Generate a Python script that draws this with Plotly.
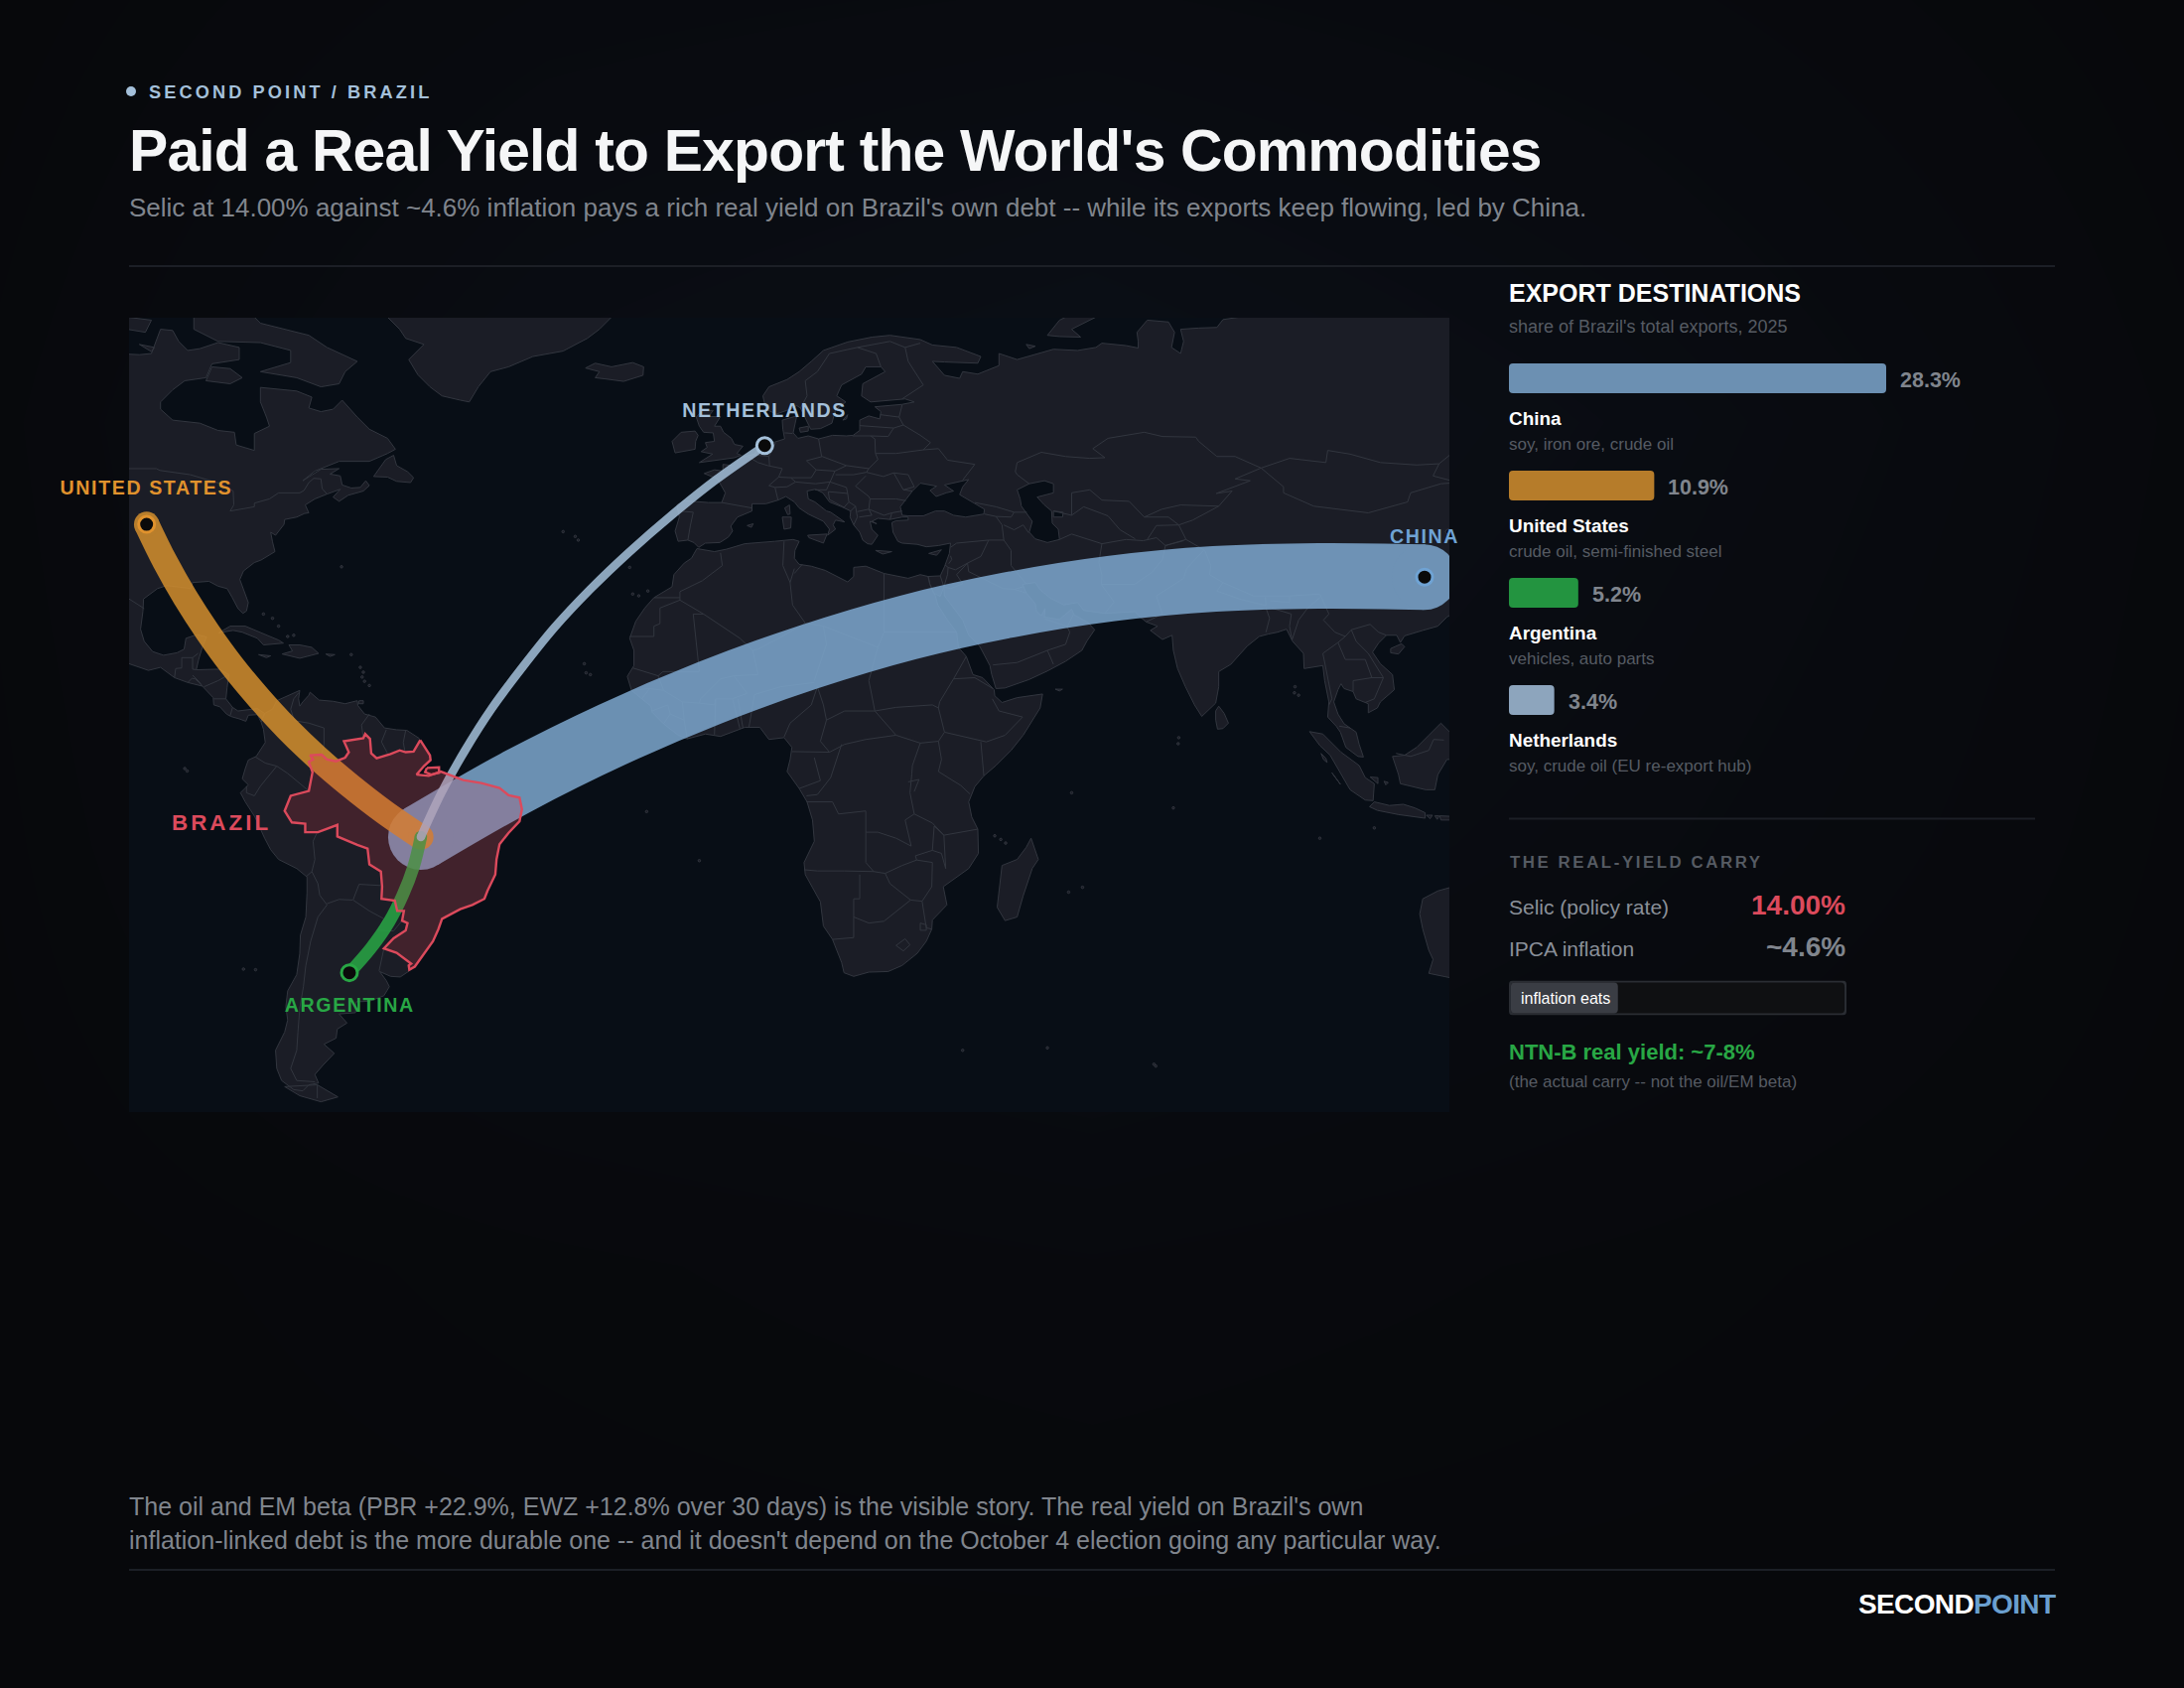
import json

import plotly.graph_objects as go

W, H = 2200, 1700
FONT = 'Liberation Sans'

# ---- export data
EXPORT_NAMES   = ['China', 'United States', 'Argentina', 'Netherlands']
EXPORT_SHARES  = [28.3, 10.9, 5.2, 3.4]
EXPORT_DETAILS = ['soy, iron ore, crude oil', 'crude oil, semi-finished steel', 'vehicles, auto parts', 'soy, crude oil (EU re-export hub)']
EXPORT_COLORS  = ['#7da7ce', '#d48f2e', '#28a745', '#a4c0da']
LABEL_COLORS   = ['#6fa3d4', '#e0922d', '#28a745', '#a4c0da']
BAR_COLORS     = ['#6c90b2', '#b67c2a', '#239440', '#8da5bd']

SELIC = 14.0
IPCA  = 4.6

# ---- flows, lon/lat
ORIGIN      = (-51.5, -11.8)
ARC_CHINA   = [ORIGIN, (-35.8, -2.8), (-19.9, 5.1), (-3.8, 12.0), (12.5, 17.9), (29.0, 22.8), (45.6, 26.5), (62.5, 29.2), (79.6, 30.8), (96.8, 31.3), (114.3, 31.1)]
ARC_US      = [ORIGIN, (-57.5, -7.7), (-63.2, -3.3), (-68.6, 1.3), (-73.6, 6.1), (-78.3, 11.2), (-82.7, 16.5), (-86.7, 22.0), (-90.4, 27.7), (-93.8, 33.7), (-96.8, 39.8)]
ARC_ARG     = [ORIGIN, (-52.7, -16.7), (-54.5, -21.4), (-56.8, -25.9), (-59.8, -30.2), (-63.3, -34.2)]
ARC_NL      = [ORIGIN, (-48.1, -4.5), (-44.2, 2.5), (-39.8, 9.4), (-34.8, 16.1), (-29.4, 22.8), (-23.5, 29.1), (-17.0, 35.3), (-10.1, 41.3), (-2.7, 47.2), (5.3, 52.8)]

# ---- page background, levels read by eye on a coarse grid
BG_X = [0, 550, 1100, 1650, 2200]
BG_Y = [0, 425, 850, 1275, 1700]
BG_LEVELS = [[0.0, 0.3, 0.4, 0.25, 0.0],
             [0.1, 0.7, 1.0, 0.6, 0.1],
             [0.05, 0.5, 0.7, 0.4, 0.05],
             [0.0, 0.1, 0.2, 0.1, 0.0],
             [0.0, 0.0, 0.0, 0.0, 0.0]]

# ---- map outlines (hand traced, lon/lat)
NORTH_AMERICA = [(-106,23),(-105.5,20),(-103,18.2),(-100,16.9),(-96.5,15.7),(-94.5,16.2),(-92.2,14.5),(-90,13.7),(-87.6,13.1),(-85.8,11.2),
    (-85.7,10),(-84.7,9.7),(-83.6,8.5),(-82.9,8.1),(-81.5,7.7),(-80.4,7.3),(-80,8.3),(-78.5,8.4),(-77.9,7.2),(-77.3,8.6),(-78.5,9.4),(-80,9.2),
    (-81.7,9),(-82.6,9.6),(-83.7,11),(-83.5,12.9),(-83.2,15),(-84.8,15.9),(-87.5,15.9),(-88.6,15.8),(-88.2,17.5),(-87.6,19.5),(-86.9,21.2),
    (-88.5,21.6),(-90.3,21),(-90.6,19.2),(-91.8,18.6),(-94,18.2),(-95.8,18.8),(-97.2,20.5),(-97.8,22.5),(-97.4,25.5),(-97.3,27.5),(-95,29.2),
    (-93.5,29.7),(-91.5,29.4),(-89.5,29.2),(-89.2,30.2),(-86.5,30.4),(-85,29.6),(-83.5,29.2),(-82.7,27.8),(-81.7,25.9),(-80.9,25.1),(-80.3,25.5),
    (-80,26.9),(-81,29.5),(-81.4,30.7),(-80.8,32.1),(-79,33.5),(-77.9,33.9),(-76.5,34.7),(-75.6,35.3),(-76,36.9),(-76.3,38.5),(-75.5,38),(-75,38.6),
    (-74.1,39.8),(-74,40.6),(-72,41),(-70.7,41.6),(-70,41.7),(-70.6,43),(-69,44),(-67,44.8),(-66,45.2),(-64.8,45.6),(-66,44.3),(-65,43.6),(-63.5,44.6),
    (-61,45.3),(-60,46.2),(-60.6,47),(-61.5,45.9),(-63,45.8),(-64.5,46.3),(-64.8,47.8),(-66.5,48.1),(-65,49),(-68,48.9),(-70,47.6),(-71,47),(-69,48.6),
    (-67,49.4),(-65,50.2),(-60,50.2),(-57,51.5),(-55.7,52.2),(-57,54),(-60,55.5),(-62,57.5),(-64.5,60.3),(-66,58.8),(-68,58.4),(-70,59),(-69.5,60.8),
    (-72,61.8),(-78,62.4),(-78,60),(-77,57.5),(-76.5,56),(-79,54.8),(-79,52),(-82,52.9),(-82.3,55),(-85,55.3),(-88,56.5),(-92.5,57),(-94.5,58.8),
    (-94.5,60),(-92.5,62),(-90.5,63.5),(-87,64),(-86,66.3),(-81.5,67),(-81.5,69),(-85,69.8),(-88,68.8),(-90,68.5),(-91.5,70),(-92.5,71.8),(-94.5,72),
    (-95.5,69.5),(-96,68),(-98,67.8),(-102,68),(-110,68),(-110,20)]
GREENLAND = [(-22,76),(-20,74),(-22,72),(-24,70.5),(-28,68.4),(-33,67.5),(-37,65.8),(-40,65),(-42,62.5),(-43.5,60),(-45,60.3),(-48,61),(-50,62.5),
    (-52,64.5),(-53.5,67),(-51,69.5),(-54,70.5),(-55,72),(-57,74),(-58,76)]
SOUTH_AMERICA = [(-77.3,8.6),(-76,9.3),(-75.3,10.7),(-74.2,11.2),(-72.8,11.9),(-71.5,12.4),(-71.7,11),(-71.5,9.8),(-71,10.5),(-70,11.6),(-69.8,12.1),(-68.3,10.8),
    (-66,10.6),(-64,10.2),(-62,10.7),(-61.9,9.9),(-60.8,8.5),(-59,8),(-57.5,6.2),(-55.5,5.9),(-53.8,5.8),(-51.8,4.5),(-50,1.7),(-49.9,0.9),(-51,-0.1),(-52.2,-1.5),
    (-50.2,-1.7),(-48.2,-1),(-44.5,-2.4),(-41.5,-2.9),(-38.5,-3.7),(-37,-4.9),(-35.2,-5.3),(-34.8,-7.2),(-35.2,-9.2),(-37,-11.1),(-38.5,-13),(-39,-15.5),(-39.2,-18),
    (-40.5,-20.7),(-41,-22),(-43,-23),(-45,-23.7),(-48,-25.3),(-48.6,-27),(-49.5,-29),(-51,-31),(-52.5,-33.2),(-53.4,-33.9),(-54.9,-34.9),(-56.5,-34.8),(-58.3,-34),
    (-57.2,-35.5),(-56.7,-36.5),(-57.6,-38),(-60,-38.9),(-62.2,-39),(-62.3,-40.8),(-65,-41),(-63.7,-42.5),(-65.3,-43.5),(-65.5,-45),(-67.5,-46),(-65.8,-47.5),(-67.7,-49.5),
    (-69,-51),(-68.4,-52.4),(-70,-52.7),(-71,-53.7),(-72.5,-53.5),(-74.5,-52),(-75.3,-50),(-75.5,-47),(-74,-44),(-73.5,-42),(-73.8,-39.8),(-73.5,-37.2),(-72,-34.5),
    (-71.5,-31),(-71.4,-28),(-70.5,-25),(-70.3,-21),(-70.3,-18.4),(-72,-17),(-75,-15.5),(-76.3,-13.9),(-77.3,-12),(-78.9,-8.5),(-80.5,-6),(-81.3,-4.5),(-80,-3.2),(-81,-2.2),
    (-80.5,-0.5),(-80,0.9),(-78.7,1.5),(-77.2,3.8),(-77.5,6),(-77.9,7.2)]
AFRICA = [(-5.9,35.8),(-3,35.3),(-1,35.7),(2,36.6),(7,37),(10,37.3),(11,37),(10.3,35.5),(10.2,34.2),(11,33.2),(13,32.9),(15.3,32.2),(19,30.3),(20,31.2),(20,32.7),(22,32.9),
    (25,31.7),(29,30.9),(31,31.5),(32.3,31.2),(32.6,29.9),(33.5,28),(33.9,26.5),(35.5,24),(37,22),(37.3,19.5),(38.6,18),(39.7,15),(41.3,14.5),(43.2,12.5),(43.3,11.5),(44.5,10.4),
    (47,11.2),(51.2,11.8),(50.8,9.5),(48,5),(46,2.5),(43.5,0),(41.5,-1.7),(40,-3.5),(39,-6),(39.5,-8.5),(40.5,-10.5),(40.6,-14.5),(39,-17),(36.5,-18.8),(34.8,-20),(35.4,-23),
    (33,-25.5),(32.9,-27),(32,-29),(30.5,-31),(28,-33),(25.7,-34),(22.5,-34.1),(20,-34.8),(18.4,-34.2),(18,-32.5),(16.5,-28.7),(15,-26.5),(14.5,-22.5),(12,-18),(11.8,-16),
    (13.5,-12.5),(13.2,-9),(12.3,-6),(11,-3.8),(9,-1),(9.5,1),(9.8,3),(8.5,4.6),(6,4.3),(4.5,6.3),(2,6.3),(-2,4.8),(-4.5,5.2),(-7.5,4.4),(-9,5),(-11.4,6.9),(-13.3,8.8),(-13.5,9.8),
    (-15,11),(-16.7,12.4),(-17.4,14.7),(-16.3,16.5),(-16.3,19),(-17,21),(-16,23.8),(-14.5,26),(-13,27.7),(-10,29.5),(-9.7,31.5),(-8,33.4),(-6.8,34.2)]
EURASIA = [(-5.6,36),(-6.4,36.8),(-7.4,37.2),(-9,37),(-9.5,38.7),(-8.8,41),(-9.2,43),(-8,43.7),(-4,43.4),(-1.8,43.4),(-1.2,45),(-2.5,47.3),(-4.7,48.2),(-3,48.8),(-1.6,48.6),(-1.6,49.7),
    (0,49.5),(1.6,50.9),(3.6,51.4),(4.7,53),(7,53.4),(8.6,53.9),(8.3,55.5),(8.2,57),(10.6,57.7),(10.3,56),(10,54.9),(10.8,54),(12.5,54.4),(14.2,53.9),(16.5,54.5),(18.8,54.4),(19.9,54.5),
    (21,55.3),(21,57),(22.5,57.7),(24.3,57.2),(24.5,58.4),(23.5,59.2),(28,59.6),(30,60),(28.5,60.5),(25,60.2),(22.8,60),(21.3,61),(21.5,63),(25.2,65),(24.5,65.8),(22,65.8),(21.3,64.6),
    (18,62.8),(17.2,61),(18.7,60),(17,58.7),(16.4,56.5),(14.5,55.6),(12.9,55.5),(12,57.5),(11.2,59),(10.6,59.4),(9.5,58.8),(7.2,58),(5.5,58.8),(5,61),(6,62.5),(9,63.7),(11,65),(13,66.7),
    (15,68.5),(19,69.9),(23,70.7),(26,71),(31,70.3),(33,69.4),(37,69),(41,67.5),(40.5,66.4),(35,66.6),(33,66.7),(35,64.4),(37.5,63.9),(38,65),(40.5,64.6),(44,66),(44,68),(47,67),(53,68.7),
    (57,68.5),(60,69),(61,69.7),(65,69.3),(67,68.9),(67,70),(66.8,71.5),(68.5,73.5),(72,73.2),(73,71.5),(72.5,69),(74,68),(74.5,70),(74,72),(77,72.2),(80,72.3),(81,73.6),(87,74.5),(95,76),
    (125,76),(125,40),(122,40.5),(121,38.8),(119,39),(118,39),(117.7,38.5),(119,37.3),(120.7,37.8),(122.5,37),(120,35.5),(119.3,34.8),(120.5,33),(121.8,31.5),(121.5,30.7),(122,29.5),(121,28),
    (119.6,25.5),(118,24.5),(116.5,23),(114,22.3),(111,21.4),(110.3,20.3),(109.7,21.5),(108,21.5),(106.7,20.2),(105.7,18.7),(107,16.8),(109,15),(109.3,12.5),(107,10.5),(106.5,9.5),(105,8.7),
    (105,10.2),(103,11),(102.5,12.2),(101,12.7),(100.5,13.5),(100,12.5),(99.3,10.5),(100,8.5),(101,6.9),(103,5.5),(103.5,3.5),(104.2,1.4),(103.3,1.5),(101.3,3),(100.4,5.5),(99.7,6.5),(98.3,8),
    (98.5,10.5),(97.8,14),(97.5,16.5),(96,16.3),(94.4,16),(94.3,18.5),(92.5,20.5),(91.5,22.5),(90,22),(88.5,21.7),(87,21.3),(85,19.7),(82.3,16.7),(80.3,15.5),(80.3,13),(79.8,10.3),(78.5,9),
    (77.5,8.1),(76.3,10),(74.8,13),(73.5,16),(72.8,19),(72.6,21.5),(71,20.8),(69,22.3),(70.2,23),(68.3,23.7),(67,24.8),(66.5,25.4),(61.5,25.1),(58,25.6),(57,26.9),(54.7,26.5),(52.5,27.6),(50.8,29),
    (50,30.2),(48.5,30),(47.9,29.9),(48.5,28.5),(50,26.7),(50.2,25.5),(51,24.7),(51.6,25.9),(51.5,24.5),(54,24.1),(56,25.8),(56.4,24.9),(58.7,23.6),(59.8,22.4),(58.5,20.5),(57.7,19),(55,17.2),
    (52,15.6),(49,14.2),(45,12.8),(43.5,12.7),(42.8,15),(42.5,16.5),(40.8,19.7),(39,21.5),(38,24),(36.5,26),(35,28),(34.9,29.5),(34.3,27.9),(33.2,28.5),(32.6,29.9),(32.3,31.2),(34.3,31.3),(35,32.8),
    (35.8,35),(36,36.7),(34,36.3),(32,36.1),(30.5,36.5),(28,36.7),(27.3,37),(26.5,38.5),(26.3,40.1),(27,40.4),(29,40.5),(29,41),(28,41),(26,40.6),(24,40.8),(23,40.3),(23.8,39.9),(22.7,40.3),(23,39),
    (24,38),(23,36.5),(22.3,36.6),(21.5,37.2),(21,38.5),(20,39.7),(19.4,41),(19.5,42),(18,42.7),(16,43.5),(14.9,45),(13.7,45.6),(12.3,45.3),(12.5,44),(13.6,43.5),(15.5,42),(16.2,41.8),(18.5,40.2),
    (17,40.5),(16.6,39.7),(17,39),(15.7,38),(16,39),(15,40.3),(12.5,41.5),(11,42.5),(10.2,43.5),(8.8,44.4),(7.5,43.8),(5.5,43.2),(3.2,43.2),(3.2,42),(0.8,41),(-0.3,39.5),(0,38.7),(-0.7,37.7),
    (-2.1,36.8),(-4.5,36.7)]
AUSTRALIA = [(114,-22),(113.5,-24.5),(114,-27),(115,-30.5),(115.7,-32),(115,-34.3),(118.4,-35),(125,-35),(125,-15),(122,-17),(119,-20),(116.5,-20.7)]
ISLANDS = [
    [(-59.3,47.7),(-57,47.6),(-55.5,46.9),(-53.2,46.7),(-52.7,47.5),(-53.7,48.5),(-55.5,49.5),(-56,51.2),(-57.3,50.5),(-58.5,48.9)],
    [(-80,75),(-78,73),(-70,71),(-67,69),(-62,66.7),(-64,65),(-65,63),(-68,62.5),(-72,64),(-75,64.5),(-78,65),(-73,66.5),(-73,68.5),(-78,69.8),(-85,70),(-89,72),(-89,75)],
    [(-87,63.5),(-83,63),(-81,64),(-83,65.5),(-86,65.8)],
    [(-100,72),(-97,71.5),(-96,73.5),(-100,74)],
    [(-98,69.5),(-95.5,69),(-96,68.3)],
    [(-84.9,21.9),(-83,23),(-80.5,23),(-77.5,21.8),(-75,20.7),(-74.2,20.2),(-77.5,19.9),(-78.5,21),(-81,22),(-82.5,22.3)],
    [(-74.4,18.4),(-71.5,17.7),(-68.4,18.5),(-69.5,19.5),(-71.5,19.9),(-73.3,19.9),(-72.7,18.9)],
    [(-78.3,18.3),(-76.3,18.1),(-77,17.8)],
    [(-67.2,18.4),(-65.7,18.3),(-66.5,18)],
    [(-61.8,10.2),(-61,10.2),(-61,10.7),(-61.7,10.7)],
    [(-68.6,-52.7),(-65.2,-54.7),(-68,-55.5),(-71.5,-54.5),(-74,-53)],
    [(-5.5,50),(-3.5,50.3),(0.3,50.8),(1.4,51.2),(0.7,51.5),(1.7,52.7),(0.3,53),(-0.2,54),(-1.5,55),(-2,56),(-3,56),(-2,57.6),(-4,57.6),(-3.2,58.6),(-5,58.6),(-6,57.5),(-5.5,56),
     (-4.8,55),(-3.2,54.9),(-3,53.5),(-4.5,53.3),(-4.2,52.5),(-5.2,51.8),(-3.3,51.4)],
    [(-6.2,52.2),(-9.5,51.6),(-10,53.5),(-8.5,55),(-6.2,55.2),(-5.7,54.5),(-6.1,53.5)],
    [(-22.7,66.4),(-20,65.8),(-16.5,66.5),(-14.7,65.8),(-14.8,64.4),(-18,63.4),(-21,63.8),(-22.7,64),(-22,65),(-24.3,65.6)],
    [(12.4,38),(15.6,38.2),(15,36.7),(12.6,37.6)],
    [(8.2,41),(9.7,41),(9.6,39.2),(8.5,39)],
    [(8.6,42.5),(9.4,43),(9.5,41.5),(9.1,41.4)],
    [(2.4,39.6),(3.4,39.9),(3.1,39.3)],
    [(23.6,35.5),(26.3,35.3),(24.8,34.9)],
    [(32.4,35),(34.5,35.6),(33.7,34.7)],
    [(11,55.7),(12.5,56),(12.5,55.2),(11.2,55)],
    [(18.2,57),(19,57.9),(18.8,57.2)],
    [(52,71),(54,73.5),(57,75),(68,76.5),(60,74),(56,72),(57.5,70.7),(54,70.8)],
    [(48.5,69.5),(50,69.2),(49,68.8)],
    [(95.3,5.6),(97.5,5.2),(100.5,2.2),(103.5,0),(104.5,-2),(106,-3),(105.8,-5.8),(104.5,-5.7),(102,-4),(100.3,-1),(98.7,1.7),(97,3.3)],
    [(105.2,-6.8),(106,-6),(108.5,-6.6),(110.8,-6.4),(112.7,-7),(114.4,-7.8),(114.4,-8.7),(110,-8.1),(106.5,-7.4)],
    [(109,1.5),(109.5,0),(110,-1.5),(110.3,-3),(112,-3.4),(114.5,-4),(116,-4),(116.5,-1.5),(118,1),(118.5,1),(119,5),(117,7),(115,5),(113,3),(111,1.7)],
    [(114.6,-8.2),(115.6,-8.2),(115.2,-8.8)],
    [(116,-8.3),(116.7,-8.3),(116.4,-8.9)],
    [(116.8,-8.3),(119,-8.4),(118.5,-9),(117,-9)],
    [(108.7,19.3),(110.5,20.1),(111,19.6),(110,18.4),(108.7,18.6)],
    [(79.8,9),(80.3,9.8),(81.2,8.6),(81.9,7),(81,6.1),(80.1,6),(79.8,7.5)],
    [(49.3,-12),(50.5,-15.5),(49.5,-17),(48,-21.5),(47,-25),(45,-25.6),(43.7,-23.4),(44,-20.5),(44.5,-16.5),(47,-15.5),(48.5,-13.5)],
    [(53.3,12.6),(54.5,12.6),(54,12.3)],
    [(97.2,2),(98,1.2),(98.2,0.5),(97.6,1)],
    [(99,-1.2),(99.8,-2.3),(100.4,-3.1),(99.5,-2)],
    [(105.3,-1.9),(106.6,-2),(106.6,-3),(105.9,-2.4)],
    [(107.6,-2.6),(108.3,-2.8),(107.9,-3.2)],
]
INNER_SEAS = [
    [(28,41.3),(29,41.2),(31.5,41.2),(33.5,42),(35,42),(36.5,41.3),(38.5,41),(41.5,41.5),(41.6,42.3),(39.5,43.6),(37.5,44.7),(38,46),(39,47.2),(35,46.3),(36.5,45.3),(35.3,45),
     (33.6,44.4),(32.6,45.4),(33.7,46.1),(31,46.6),(29.7,45.3),(28.7,44),(27.7,42.7)],
    [(47,45.5),(49,46.5),(51.5,47),(53,46.5),(53,45),(51,44.5),(50.3,44.3),(51.5,43),(52.7,42),(52.8,40),(53.8,39),(54,37.3),(52,36.8),(50,37.4),(49,38.5),(49.5,40.3),(47.7,42.8),(47.5,44)],
    [(53,42),(54.6,41.8),(54.5,41),(53,41)],
]
ISLAND_SPECKS_LON = [-90.5,-90.1,-80.8,-78.8,-28,-26,-25.5,-17,-16.5,-15.5,-14,-24.5,-23.5,-24.2,-77.5,-76,-75,-73.5,-72.5,-61.5,-61,-61.2,-60.8,-63,-64.6,-60,
                     43.3,44.3,45.1,55.5,57.8,73.7,73.6,72.8,92.8,92.9,93.5,69.6,56,38,52,-14.2,-5.5,106,97,69.9]
ISLAND_SPECKS_LAT = [-0.5,-0.9,-33.6,-33.7,38.6,37.8,37.2,32.7,28.3,28,28.8,16.8,15,15.3,25,24.3,23,21.3,21.5,16.2,15.4,14.6,13.9,18.3,32.8,13.2,
                     -11.6,-12.2,-12.8,-20.9,-20.1,4.6,3.6,-7,12,13,11.6,-49.3,-4.5,-47,-46.6,-7.6,-15.7,-10.3,-12,-49.6]

BORDERS_AMERICAS = [
    [(-99.7,49),(-95.2,49),(-94.6,48.7),(-92,48.3),(-89.6,48),(-84.5,46.5),(-82.5,45.3),(-82.4,43),(-83,42),(-79,42.7),(-79,43.3),(-76.5,44),(-75,45),(-71.5,45),(-70.8,45.4),(-70,46.7),(-69.2,47.4),(-68,47.3),(-67.8,45.7),(-67,44.8)],
    [(-99.7,27.5),(-97.2,25.9)],
    [(-92.2,14.5),(-92,16),(-91,16.1),(-91,17.8),(-89.2,17.8),(-88.3,18.5)],
    [(-89.2,17.8),(-89.2,15.9),(-88.6,15.8)],
    [(-90,13.7),(-89.3,14.4),(-88.8,14.3),(-87.8,13.4)],
    [(-89.2,14.9),(-88.2,13.9),(-87.6,13.1)],
    [(-87.3,13),(-85,14),(-83.2,15)],
    [(-85.7,11),(-83.7,11)],
    [(-83,8.2),(-82.6,9.6)],
    [(-71.7,12),(-72.5,11),(-73,9.3),(-72.4,7.4),(-70,7),(-67.5,6.2),(-67.5,3.5),(-67.9,1.8)],
    [(-60,8.5),(-61.3,6.7),(-61,4.5)],
    [(-57.2,5.9),(-58,3.9),(-57,2)],
    [(-54,5.8),(-54.4,3.8),(-54.1,2.2)],
    [(-78.8,1.4),(-77.2,0.4),(-75.3,-0.1),(-73.5,-1.3),(-70,-4.2)],
    [(-80.3,-3.4),(-80.3,-4.5),(-79,-5),(-78,-3.4),(-75.3,-0.1)],
    [(-70.4,-18.3),(-69.5,-17.5),(-69,-15.5),(-69.3,-12.5),(-68.7,-11.2)],
    [(-69.5,-17.5),(-68.5,-19.5),(-68.2,-21.4),(-67,-23)],
    [(-67,-22.8),(-65,-22.1),(-62.8,-22.2)],
    [(-62.7,-22.2),(-61.7,-19.6),(-58.2,-19.8)],
    [(-62.7,-22.2),(-60,-24),(-57.6,-25.3),(-58.6,-27.2),(-56,-27.3),(-54.6,-25.6)],
    [(-67,-23),(-68.5,-25),(-69.7,-29),(-70.5,-33),(-70.9,-36.5),(-71.5,-40),(-71.8,-44),(-72,-47),(-73,-50),(-72,-52),(-69,-52.2)],
    [(-68.6,-52.7),(-68.6,-54.9)],
    [(-57.6,-30.2),(-58.4,-33.9)],
]
BORDERS_AFRICA = [
    [(-2,35.1),(-1.7,33),(-5,30.5),(-8.7,28.7),(-8.7,27.3)],
    [(-13,27.7),(-8.7,27.7)],
    [(-8.7,27.3),(-12,26),(-12,23.4),(-13,23),(-13,21.3),(-17,21.3)],
    [(-8.7,27.3),(-4.8,25),(-6.5,25),(-5.5,15.5),(-11.5,15.5),(-12.3,14.8),(-16.5,16.1)],
    [(-4.8,25),(1.2,21),(3.3,19),(4.2,19.2),(7.5,20.9),(12,23.5),(9.9,26.5),(9.5,30.2),(10.2,32.5)],
    [(8.5,37),(8.3,33),(9.5,30.2)],
    [(11.5,33.2),(10.2,31.7)],
    [(25,31.7),(25,22),(37,22)],
    [(25,22),(24,19.5),(15,23),(12,23.5)],
    [(15,23),(15.5,20),(13.5,14)],
    [(24,19.5),(22.5,14),(23.5,9)],
    [(13.5,13.7),(8,13),(3.6,11.7)],
    [(3.3,19),(4.2,15),(0.2,14.8),(2.4,11.9)],
    [(0.2,14.8),(-2,14.3),(-5.3,11),(-5.5,10.3)],
    [(2.4,11.9),(-0.1,11),(-2.8,11),(-3,10),(-5.5,10.3),(-8.3,10.5),(-11.4,12.4),(-12.3,14.8)],
    [(-16.7,12.4),(-13.7,12.7),(-15,11)],
    [(-13.7,12.7),(-11.4,12.4)],
    [(-13.3,9),(-10.7,10),(-10.3,8.5),(-11.4,6.9)],
    [(-10.3,8.5),(-8,7.5),(-7.5,4.4)],
    [(-8,7.5),(-8.3,10.5)],
    [(-3,5.1),(-2.8,11)],
    [(1.2,6.1),(0,11)],
    [(1.7,6.2),(0.9,11)],
    [(2.7,6.3),(3.6,11.7)],
    [(8.5,4.7),(9.5,7),(13,10),(14,13)],
    [(14,13),(15,10),(15.5,7.5),(14.5,4),(16,2.2),(18.5,3.5),(22,4.3),(27,5)],
    [(15.5,7.5),(18.5,9),(23.5,9),(27,5)],
    [(9.8,2.3),(13.3,2.2),(16,2.2)],
    [(11,-3.8),(14.5,-2.5),(13.5,1.3)],
    [(12.2,-5),(14,-4.8),(16.2,-2),(18,3.5)],
    [(23.5,9),(27,9.6),(33,10),(34,9.5)],
    [(36.5,14.3),(34.2,10.5),(34,9.5),(35,5.5),(34,4),(31,3.7),(27,5)],
    [(38.6,18),(36.5,14.3),(40,14.5),(43,12.7)],
    [(31,3.7),(29.7,0),(29.6,-1.4),(29.3,-4.5),(30,-8),(33,-9.5),(34.9,-11.5),(40.5,-10.5)],
    [(34,4),(34.5,1),(34,-1),(37.7,-3.3),(39.2,-4.7)],
    [(35,5.5),(41,4),(41.9,3.9),(45,5),(47.9,8),(44,9),(42.9,11)],
    [(41.5,-1.7),(41,3.9)],
    [(29,-2.7),(30.8,-2.3),(30,-4.3)],
    [(12.2,-6),(16.5,-6),(17.5,-8),(22,-7.5),(22,-11),(24,-11),(27,-12),(29.5,-13.3),(28.5,-9),(30,-8)],
    [(22,-11),(22,-13),(22,-16),(23.3,-17.5)],
    [(11.8,-17.2),(14,-17.4),(18.5,-17.4),(23.3,-17.5),(25.2,-17.8),(28,-16.5),(30.4,-15.6),(33,-16),(32.9,-20),(31.3,-22.4),(32,-26.8),(32.9,-27)],
    [(21,-18),(21,-22),(20,-22),(20,-28.4),(16.5,-28.7)],
    [(20,-25),(22.5,-26),(25,-25.7),(29.4,-22.2),(31.3,-22.4)],
    [(25.2,-17.8),(26,-19.5),(29.4,-22.2)],
    [(30.4,-15.6),(30.2,-14.9),(33,-14),(34.5,-14.5),(35.2,-17),(34.9,-11.5),(33.3,-10),(33,-14)],
    [(27,-29.7),(28.5,-28.6),(29.3,-29.6),(28.2,-30.6),(27,-29.7)],
    [(31,-26),(32,-26.3),(32,-27.2),(31,-27.2),(31,-26)],
]
BORDERS_EUROPE = [
    [(-1.8,43.4),(3.2,42.5)],
    [(-8.8,42),(-6.5,41.8),(-7,39.5),(-7.4,37.2)],
    [(2.5,51),(4.2,50),(5.8,49.5),(8.2,49),(7.6,47.6),(6,46.2),(7,45.9),(7.5,43.8)],
    [(3.4,51.3),(6,51),(7.1,53.3)],
    [(6,51),(6.1,49.5)],
    [(7.6,47.6),(9.6,47.5),(10.4,46.8),(9,46),(7,45.9)],
    [(8.6,54.9),(9.9,54.8)],
    [(14.2,53.9),(14.7,51)],
    [(12.2,50.3),(13.8,48.8)],
    [(12.2,50.3),(14.8,51),(18.8,49.5),(22.5,49),(22.1,48.4)],
    [(9.6,47.5),(13,47.5),(13.8,48.8),(16.9,48.6),(18.8,49.5)],
    [(10.4,46.8),(13.7,46.5),(16.1,46.8),(15.5,45.5),(13.6,45.5)],
    [(16.9,48.6),(16.1,46.8),(18.8,45.9),(19,44.9),(15.8,45.2),(16,43.9),(18.4,42.6),(19.2,43.5),(19,44.9)],
    [(17,48),(20,48),(22.1,48.4),(24.9,47.7),(26.6,48.3),(29,48),(30,46),(28.2,45.5),(29.7,45.3)],
    [(22.5,49),(24,50.5),(23.6,51.5),(23.5,53.9),(22.8,54.4),(19.8,54.4)],
    [(21,56.1),(26.6,55.7),(28.2,56.2),(27.5,57.5),(24.4,57.9)],
    [(27.5,57.5),(28,59.5)],
    [(22.8,54.4),(25.7,54.3),(26.6,55.7)],
    [(28.2,56.2),(31,54.5),(32.7,53.3),(31.5,52.1),(34,52.3),(35.5,50.4),(40,49.7),(38,47.1)],
    [(23.6,51.5),(27,51.5),(31.5,52.1)],
    [(26.6,48.3),(28.2,45.5)],
    [(22,47.8),(20.3,46.1),(22.5,44.4),(22.7,44),(27,44),(28.6,43.7)],
    [(22.7,44),(22.5,42.3),(25,41.3),(26.3,41.7),(28,42)],
    [(19.2,43.5),(20.3,42.8),(19.4,41.9)],
    [(20.3,42.8),(20.6,41),(20,39.7)],
    [(20.6,41.9),(22.5,42.3),(23,41.3),(20.9,41)],
    [(26.3,41.7),(26,40.6)],
    [(24.5,65.8),(23.7,68),(20.6,69),(26,70),(28.5,69),(29,66.7),(31.5,62.8),(28,60.5)],
    [(11.2,59),(12.3,61),(12,63.5),(14,65),(16,68),(20.6,69)],
    [(28.5,69),(31,69.7)],
]
BORDERS_ASIA = [
    [(36,36),(37,36.7),(42.3,37.2),(44.8,37.2),(44.5,39.7),(43.5,41.1),(41.6,41.5)],
    [(40,43.4),(43.5,42.7),(46.5,41.8),(48.6,41.8)],
    [(43.5,41.1),(46,41),(46.5,41.8)],
    [(44.8,39.7),(46.5,38.9),(48,39.7),(48.9,38.4)],
    [(44.8,37.2),(46,35.5),(46,33),(48,30.5),(48.5,30)],
    [(42.3,37.2),(41,34.5),(38.8,33.4),(36.8,32.3),(35.6,32.7),(35.5,31.5),(34.9,29.5)],
    [(38.8,33.4),(37,31.5),(38,30),(36,29.2),(34.9,29.5),(34.3,31.3)],
    [(38.8,33.4),(39,32),(44.7,29.2),(46.5,29.1),(48,29.5)],
    [(46.5,29.1),(48.4,28.5)],
    [(35.1,33.1),(35.6,32.7)],
    [(36,34.6),(36.2,34),(35.7,33.3)],
    [(43,16.6),(47,17),(52,19),(53,16.7)],
    [(52,19),(55,20),(55.7,22),(55.2,23),(51.6,24.2)],
    [(55.2,22.7),(56.3,24.9)],
    [(54,37.3),(56,38.2),(61,36.6),(60.5,33.5),(61,31.4),(60.9,29.9),(63,27),(61.5,25.1)],
    [(60.9,29.9),(66.4,29.9),(69.3,31.9),(71,34),(71.5,36.3),(74.5,37.1)],
    [(61,36.6),(65,37.3),(67.8,37.1),(70,37.6),(71.5,36.3),(74.9,37.3)],
    [(53,42),(56,41.3),(56,45),(59,45.5),(61,43.8),(65.5,43.6),(68,41),(70.9,42.3),(74,43),(80.3,42.8),(82.5,45.3),(79.9,44.9),(85.5,47),(83,47.3),(87.3,49.1)],
    [(56,41.3),(58,42.7),(62,41.2),(64,38.9),(66.5,37.4)],
    [(68,41),(70,41),(72,41),(73.7,39.7),(70,39.6),(68.5,37.3)],
    [(73.7,39.7),(76,40.5),(80.3,42.8)],
    [(73.7,39.7),(74.9,37.3),(78,35.5),(79,33),(78.8,31.5),(81,30.2),(86,28),(88.8,28),(92,28),(97,28.3),(98.5,25),(97.6,24),(99.5,22),(101.2,21.3),(102.2,22.4),(105.3,23.3),(106.7,22),(108,21.5)],
    [(49,46.5),(47,48),(46.7,48.5),(47,50),(51,51.7),(55,51),(59,50.7),(61.5,50.8),(59.5,52.3),(62,54),(68,55),(71,54.3),(76.5,54.2),(77,53.5),(80,51),(83,51),(87.3,49.1)],
    [(87.3,49.1),(92,50.7),(98,50),(98.3,52),(102,51.4),(107,50),(113,49.6),(116.7,49.8),(120,52.5),(125,53)],
    [(87.3,49.1),(91,46),(91,45),(96,42.8),(105,41.7),(111.5,43.5),(112,45),(117,46.5),(119.9,46.7),(115.7,47.8),(116.7,49.8)],
    [(81,30.2),(80,28.8),(84,27.4),(88.1,26.4),(88,27.8)],
    [(88.8,27.2),(92,26.9),(92,27.9)],
    [(77.8,35.5),(75,32.5),(74.5,30.9),(70,28),(71,25),(68.3,23.7)],
    [(88.1,26),(88.7,24.3),(88.1,22)],
    [(89,26),(92.3,25),(92,23),(92.4,20.7),(93.5,24),(95,26),(97,27.7)],
    [(101.2,21.3),(100,20.3),(97.5,18.5),(98.2,15),(99,11),(98.5,10)],
    [(100,20.3),(101.2,17.5),(104.5,17.5),(105.6,14.5),(102.5,14),(102.5,12.2)],
    [(105.6,14.5),(107.5,14.5),(106,11),(104.5,10.4)],
    [(102.2,22.4),(103,20.5),(105,18.5),(107.5,14.5)],
    [(100.2,6.5),(102,6.2)],
    [(109.6,2),(112,1.5),(115,2.5),(115.8,4.3),(117.5,4.2)],
]
BRAZIL_OUTLINE = [(-51.6,4.2),(-50,1.7),(-49.9,0.9),(-51,-0.1),(-52.2,-1.5),(-50.2,-1.7),(-48.2,-1),(-44.5,-2.4),(-41.5,-2.9),(-38.5,-3.7),(-37,-4.9),(-35.2,-5.3),(-34.8,-7.2),(-35.2,-9.2),(-37,-11.1),
    (-38.5,-13),(-39,-15.5),(-39.2,-18),(-40.5,-20.7),(-41,-22),(-43,-23),(-45,-23.7),(-48,-25.3),(-48.6,-27),(-49.5,-29),(-51,-31),(-52.5,-33.2),(-53.4,-33.7),(-53.5,-33),(-53.1,-32.7),(-55.5,-30.9),
    (-57.6,-30.2),(-56,-28.5),(-54,-27.2),(-53.7,-26),(-54.6,-25.6),(-54.3,-24),(-55.4,-24),(-55.8,-22.3),(-58,-22),(-57.9,-20),(-58.1,-17.5),(-60,-16.3),(-60.3,-13.7),(-62,-13.1),(-65.3,-11.7),
    (-65.3,-9.8),(-68.5,-11),(-70.6,-11),(-70.6,-9.6),(-72.8,-9.4),(-74,-7.5),(-73,-5),(-70,-4.2),(-69.4,-1.1),(-70,0.6),(-69.3,1),(-69.8,1.7),(-67.9,1.8),(-67,1),(-65.5,0.7),(-64,1.3),(-63.4,2.2),
    (-64.2,4),(-61,4.5),(-60.7,5.2),(-59.9,4.4),(-59.7,2),(-58.8,1.2),(-56.5,1.9),(-55,2.5),(-54,2.2),(-52.7,2.3)]
MARAJO = [(-50.5,-0.4),(-48.5,-0.3),(-48.5,-1.2),(-49.8,-1.5),(-50.8,-1.1)]

MAP_LON = [-99.7, 118.4]
MAP_LAT = [-57.2, 73.9]


def chain(*groups):
    # polygons -> one lon list and one lat list, broken by None
    xs, ys = [], []
    for group in groups:
        for poly in group:
            xs += [p[0] for p in poly] + [None]
            ys += [p[1] for p in poly] + [None]
    return xs, ys


def closed(poly):
    return list(poly) + [poly[0]]


def px(x):
    return x / W


def py(y):
    return 1 - y / H


def dom_x(a, b):
    return [px(a), px(b)]


def dom_y(top, bottom):
    return [py(bottom), py(top)]


fig = go.Figure()

# ---- page background, sits on the first subplot so everything else is over it
fig.add_trace(go.Heatmap(x=BG_X, y=BG_Y, z=BG_LEVELS, zmin=0, zmax=1, zsmooth='best', showscale=False, hoverinfo='skip',
                         colorscale=[[0, '#07080b'], [1, '#0b0f17']], xaxis='x', yaxis='y'))

# ---- ocean + land
MAP_AX = dict(xaxis='x2', yaxis='y2', hoverinfo='skip')
fig.add_trace(go.Scatter(x=[MAP_LON[0], MAP_LON[1], MAP_LON[1], MAP_LON[0], MAP_LON[0]], y=[MAP_LAT[0], MAP_LAT[0], MAP_LAT[1], MAP_LAT[1], MAP_LAT[0]],
                         mode='lines', fill='toself', fillcolor='#080e16', line=dict(width=0), **MAP_AX))
land_x, land_y = chain([closed(p) for p in [NORTH_AMERICA, GREENLAND, SOUTH_AMERICA, AFRICA, EURASIA, AUSTRALIA]], [closed(p) for p in ISLANDS])
fig.add_trace(go.Scatter(x=land_x, y=land_y, mode='lines', fill='toself', fillcolor='#1b1d26', line=dict(color='#32363f', width=1), **MAP_AX))
sea_x, sea_y = chain([closed(p) for p in INNER_SEAS])
fig.add_trace(go.Scatter(x=sea_x, y=sea_y, mode='lines', fill='toself', fillcolor='#080e16', line=dict(color='#32363f', width=1), **MAP_AX))
fig.add_trace(go.Scatter(x=ISLAND_SPECKS_LON, y=ISLAND_SPECKS_LAT, mode='markers', marker=dict(size=2.5, color='#1b1d26', line=dict(color='#32363f', width=1)), **MAP_AX))
bx, by = chain(BORDERS_AMERICAS, BORDERS_AFRICA, BORDERS_EUROPE, BORDERS_ASIA)
fig.add_trace(go.Scatter(x=bx, y=by, mode='lines', line=dict(color='#32363f', width=1), **MAP_AX))

# ---- flows, width follows the export share
ARC_W = [66, 25.5, 12.5, 8.5]
for arc, col, w in zip([ARC_CHINA, ARC_US, ARC_ARG, ARC_NL], EXPORT_COLORS, ARC_W):
    lons = [p[0] for p in arc]
    lats = [p[1] for p in arc]
    sizes = [w] + [0] * (len(arc) - 2) + [w]  # round caps
    fig.add_trace(go.Scatter(x=lons, y=lats, mode='lines+markers', opacity=0.85,
                             line=dict(color=col, width=w, shape='spline', smoothing=1),
                             marker=dict(size=sizes, color=col, opacity=1, line=dict(width=0)), **MAP_AX))

# ---- Brazil goes over the flows
brx, bry = chain([closed(BRAZIL_OUTLINE), closed(MARAJO)])
fig.add_trace(go.Scatter(x=brx, y=bry, mode='lines', fill='toself', fillcolor='rgba(220,53,69,0.2)', line=dict(color='#dc4a5c', width=2.4), **MAP_AX))

# ---- destination dots
for arc, col in zip([ARC_CHINA, ARC_US, ARC_ARG, ARC_NL], LABEL_COLORS):
    fig.add_trace(go.Scatter(x=[arc[-1][0]], y=[arc[-1][1]], mode='markers', marker=dict(size=16, color='#0a0a0a', line=dict(color=col, width=3)), **MAP_AX))


def round_bar(value, y, color, width, axes, inset=0.0):
    # an explicit base makes plotly round both ends of the bar
    fig.add_trace(go.Bar(x=[value - 2 * inset], y=[y], base=[inset], orientation='h', width=width, hoverinfo='skip', cliponaxis=False,
                         marker=dict(color=color, cornerradius=4, line=dict(width=0)), xaxis=axes[0], yaxis=axes[1]))


# ---- export bars
for name, share, col in zip(EXPORT_NAMES, EXPORT_SHARES, BAR_COLORS):
    round_bar(share, name, col, 30 / 108, ('x3', 'y3'))

# ---- carry bar
round_bar(SELIC, 0, '#2a2d33', 1, ('x4', 'y4'))
round_bar(SELIC, 0, '#0f1012', 0.89, ('x4', 'y4'), inset=0.08)
round_bar(IPCA, 0, '#3a3d44', 0.89, ('x4', 'y4'), inset=0.08)

anns = []


def text(x, base, s, size, color, bold=False, anchor='left'):
    # x and baseline in page pixels
    anns.append(dict(xref='paper', yref='paper', x=px(x), y=py(base + 1 - 0.905 * size), text=s, showarrow=False,
                     xanchor=anchor, yanchor='top', align=anchor, borderpad=0, borderwidth=0,
                     font=dict(family=FONT, size=size, color=color, weight=700 if bold else 400)))


GREY = '#80858d'
DIM = '#565b63'

text(150, 98.5, 'SECOND POINT / BRAZIL', 18.2, '#a4c0da', True)
text(130, 171.5, "Paid a Real Yield to Export the World's Commodities", 58.8, '#f5f6f7', True)
text(130, 217, "Selic at 14.00% against ~4.6% inflation pays a rich real yield on Brazil's own debt -- while its exports keep flowing, led by China.", 26, GREY)

text(1520, 303, 'EXPORT DESTINATIONS', 25, '#ffffff', True)
text(1520, 334, "share of Brazil's total exports, 2025", 18, DIM)

for i, (name, detail, share) in enumerate(zip(EXPORT_NAMES, EXPORT_DETAILS, EXPORT_SHARES)):
    text(1520, 427 + 108 * i, name, 18.9, '#ffffff', True)
    text(1520, 452 + 108 * i, detail, 17, DIM)
    anns.append(dict(xref='x3', yref='y3', x=share, y=name, text=f'{share}%', showarrow=False, xanchor='left', xshift=13,
                     yshift=-2, borderpad=0, font=dict(family=FONT, size=21.5, color=GREY, weight=700)))

text(1521, 873, 'THE REAL-YIELD CARRY', 16.8, DIM, True)
text(1520, 920, 'Selic (policy rate)', 21, '#8a9099')
text(1859, 920, f'{SELIC:.2f}%', 28, '#dc4a5c', True, 'right')
text(1520, 962, 'IPCA inflation', 21, '#8a9099')
text(1859, 962, f'~{IPCA}%', 28, GREY, True, 'right')
text(1576.5, 1010, 'inflation eats', 16.1, '#ffffff', False, 'center')
text(1520, 1066, 'NTN-B real yield: ~7-8%', 22, '#28a745', True)
text(1520, 1094, '(the actual carry -- not the oil/EM beta)', 17, DIM)

text(130, 1525, "The oil and EM beta (PBR +22.9%, EWZ +12.8% over 30 days) is the visible story. The real yield on Brazil's own", 25, GREY)
text(130, 1559, "inflation-linked debt is the more durable one -- and it doesn't depend on the October 4 election going any particular way.", 25, GREY)
text(2070, 1624, 'SECOND<span style="color:#6a9fcf">POINT</span>', 28, '#ffffff', True, 'right')

# map labels
for arc, name, col, shift in zip([ARC_CHINA, ARC_US, ARC_ARG, ARC_NL], ['CHINA', 'UNITED STATES', 'ARGENTINA', 'NETHERLANDS'], LABEL_COLORS, [41, 37, -32, 36]):
    anns.append(dict(xref='x2', yref='y2', x=arc[-1][0], y=arc[-1][1], yshift=shift, text=name, showarrow=False, borderpad=0,
                     font=dict(family=FONT, size=19.6, color=col, weight=700)))
anns.append(dict(xref='x2', yref='y2', x=-84.4, y=-9.4, text='BRAZIL', showarrow=False, borderpad=0,
                 font=dict(family=FONT, size=22.4, color='#dc4a5c', weight=700)))

shapes = [
    dict(type='line', xref='paper', yref='paper', x0=px(130), x1=px(2070), y0=py(268), y1=py(268), line=dict(color='#1c1f26', width=2), layer='above'),
    dict(type='line', xref='paper', yref='paper', x0=px(1520), x1=px(2050), y0=py(824.5), y1=py(824.5), line=dict(color='#1c1f26', width=2), layer='above'),
    dict(type='line', xref='paper', yref='paper', x0=px(130), x1=px(2070), y0=py(1581), y1=py(1581), line=dict(color='#1c1f26', width=2), layer='above'),
    dict(type='circle', xref='paper', yref='paper', x0=px(127), x1=px(137), y0=py(97), y1=py(87), fillcolor='#a4c0da', line=dict(width=0), layer='above'),
]

hidden = dict(visible=False, showgrid=False, zeroline=False, fixedrange=True)
fig.update_layout(
    width=W, height=H, margin=dict(l=0, r=0, t=0, b=0), autosize=False,
    paper_bgcolor='#08090d', plot_bgcolor='rgba(0,0,0,0)',
    showlegend=False, barmode='overlay', hovermode=False,
    annotations=anns, shapes=shapes,
    xaxis=dict(hidden, domain=[0, 1], range=[0, W], anchor='y'),
    yaxis=dict(hidden, domain=[0, 1], range=[H, 0], anchor='x'),
    xaxis2=dict(hidden, domain=dom_x(130, 1460), range=MAP_LON, anchor='y2'),
    yaxis2=dict(hidden, domain=dom_y(320, 1120), range=MAP_LAT, anchor='x2'),
    xaxis3=dict(hidden, domain=dom_x(1520, 2050), range=[0, 39.47], anchor='y3'),
    yaxis3=dict(hidden, domain=dom_y(327, 759), type='category', categoryorder='array', categoryarray=EXPORT_NAMES, range=[3.5, -0.5], anchor='x3'),
    xaxis4=dict(hidden, domain=dom_x(1520, 1860), range=[0, 14], anchor='y4'),
    yaxis4=dict(hidden, domain=dom_y(987.5, 1022.5), range=[-0.5, 0.5], anchor='x4'),
)

# letter spacing is not an attribute in plotly, set on the svg text afterwards
SPACING = {
    'SECOND POINT / BRAZIL': 3.1, 'NETHERLANDS': 1.6, 'UNITED STATES': 1.6, 'ARGENTINA': 1.6, 'CHINA': 1.6, 'BRAZIL': 3.0,
    "Paid a Real Yield to Export the World's Commodities": -0.8, 'THE REAL-YIELD CARRY': 2.6, 'SECONDPOINT': -0.64,
}
post = """
document.documentElement.style.background='#08090d';document.body.style.margin='0';document.body.style.background='#08090d';
var sp=%s;
document.querySelectorAll('.annotation-text').forEach(function(t){var s=sp[t.textContent];if(s!==undefined){t.style.letterSpacing=s+'px';}});
""" % json.dumps(SPACING)

fig.write_html("out.html", post_script=post, config=dict(displayModeBar=False))
